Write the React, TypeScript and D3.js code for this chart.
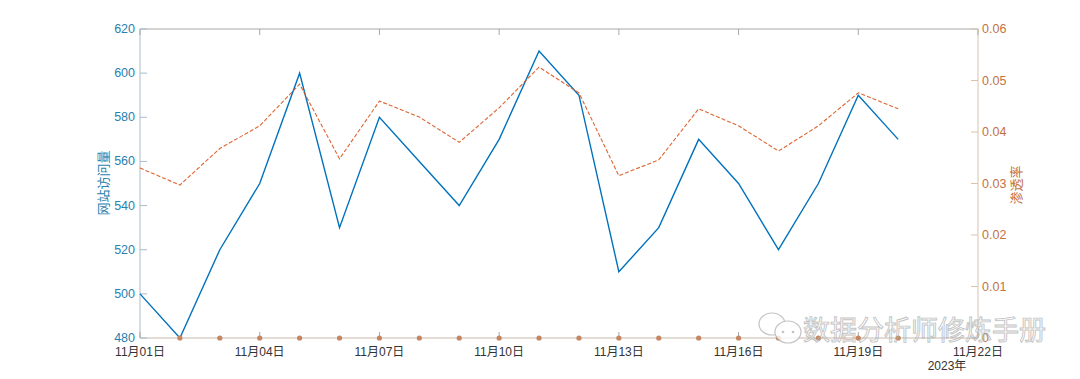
import React from "react";
import * as d3 from "d3";

const days: number[] = [1, 2, 3, 4, 5, 6, 7, 8, 9, 10, 11, 12, 13, 14, 15, 16, 17, 18, 19, 20];
const visits: number[] = [500, 480, 520, 550, 600, 530, 580, 560, 540, 570, 610, 590, 510, 530, 570, 550, 520, 550, 590, 570];
const rate: number[] = [0.033, 0.0297, 0.0368, 0.0412, 0.0493, 0.0348, 0.046, 0.0429, 0.038, 0.0447, 0.0526, 0.0476, 0.0315, 0.0346, 0.0445, 0.0412, 0.0363, 0.0412, 0.0476, 0.0445];
const dotDays: number[] = [2, 3, 4, 5, 6, 7, 8, 9, 10, 11, 12, 13, 14, 15, 16, 17, 18, 19, 20];
const xTickDays: number[] = [1, 4, 7, 10, 13, 16, 19, 22];
const leftTicks: number[] = [480, 500, 520, 540, 560, 580, 600, 620];
const rightTicks: number[] = [0, 0.01, 0.02, 0.03, 0.04, 0.05, 0.06];

const W = 1080;
const H = 379;
const L = 140, R = 978, T = 29, B = 338;
const BLUE = "#0072BD";
const BLUE_TXT = "#2a7fae";
const ORANGE = "#D95319";
const ORANGE_TXT = "#c4713f";
const FONT = "'Liberation Sans', Arial, 'Noto Sans CJK SC', sans-serif";

const dt = (d: number) => new Date(2023, 10, d);

export default function App() {
  const x = d3.scaleTime().domain([dt(1), dt(22)]).range([L, R]);
  const yL = d3.scaleLinear().domain([480, 620]).range([B, T]);
  const yR = d3.scaleLinear().domain([0, 0.06]).range([B, T]);

  const blueLine = d3.line<number>().x((_, i) => x(dt(days[i]))).y((v) => yL(v))(visits) || "";
  const orangeLine = d3.line<number>().x((_, i) => x(dt(days[i]))).y((v) => yR(v))(rate) || "";
  const fmtX = (d: number) => `11月${String(d).padStart(2, "0")}日`;

  return (
    <svg width={W} height={H} style={{ position: "absolute", left: 0, top: 0, background: "#fff" }} fontFamily={FONT}>
      <line x1={L} x2={R} y1={T} y2={T} stroke="#a8a8a8" strokeWidth={1} />
      <line x1={L} x2={R} y1={B} y2={B} stroke="#c9b7aa" strokeWidth={1} />
      <line x1={L} x2={L} y1={T} y2={B} stroke="#a9bccb" strokeWidth={1} />
      <line x1={R} x2={R} y1={T} y2={B} stroke="#d8c3ae" strokeWidth={1} />

      {xTickDays.map((d) => (
        <g key={"xt" + d}>
          <line x1={x(dt(d))} x2={x(dt(d))} y1={B} y2={B - 6} stroke="#a8a8a8" />
          <line x1={x(dt(d))} x2={x(dt(d))} y1={T} y2={T + 6} stroke="#a8a8a8" />
          <text x={x(dt(d))} y={B + 18} textAnchor="middle" fontSize={12} fill="#333">{fmtX(d)}</text>
        </g>
      ))}
      <text x={947} y={370} textAnchor="middle" fontSize={12} fill="#333">2023年</text>

      {leftTicks.map((v) => (
        <g key={"lt" + v}>
          <line x1={L} x2={L + 7} y1={yL(v)} y2={yL(v)} stroke="#a9bccb" />
          <text x={L - 5} y={yL(v) + 4} textAnchor="end" fontSize={12.5} fill={BLUE_TXT}>{v}</text>
        </g>
      ))}
      <text transform={`translate(108,183) rotate(-90)`} textAnchor="middle" fontSize={13} fill={BLUE_TXT}>网站访问量</text>

      {rightTicks.map((v) => (
        <g key={"rt" + v}>
          <line x1={R} x2={R - 7} y1={yR(v)} y2={yR(v)} stroke="#d8c3ae" />
          <text x={R + 4} y={yR(v) + 4} textAnchor="start" fontSize={12.5} fill={ORANGE_TXT}>{v === 0 ? "0" : v.toFixed(2)}</text>
        </g>
      ))}
      <text transform={`translate(1021,185) rotate(-90)`} textAnchor="middle" fontSize={13} fill={ORANGE_TXT}>渗透率</text>

      <path d={blueLine} fill="none" stroke={BLUE} strokeWidth={1.4} strokeLinejoin="miter" />
      <path d={orangeLine} fill="none" stroke={ORANGE} strokeWidth={1.1} strokeDasharray="4,2" opacity={0.9} />
      {dotDays.map((d) => (
        <circle key={"dot" + d} cx={x(dt(d))} cy={yR(0)} r={2.6} fill="#c48560" />
      ))}

      <g opacity={0.8}>
        <ellipse cx={772} cy={324} rx={13} ry={11} fill="none" stroke="#b5b5b5" strokeWidth={1.2} />
        <ellipse cx={788} cy={332} rx={13} ry={11} fill="#fff" stroke="#b5b5b5" strokeWidth={1.2} />
        <circle cx={783} cy={332} r={1.3} fill="#b5b5b5" />
        <circle cx={793} cy={332} r={1.3} fill="#b5b5b5" />
        <text x={803} y={340} fontSize={27} fill="none" stroke="#b5b5b5" strokeWidth={0.9} fontFamily="'Noto Sans CJK SC', sans-serif">数据分析师修炼手册</text>
      </g>
    </svg>
  );
}
